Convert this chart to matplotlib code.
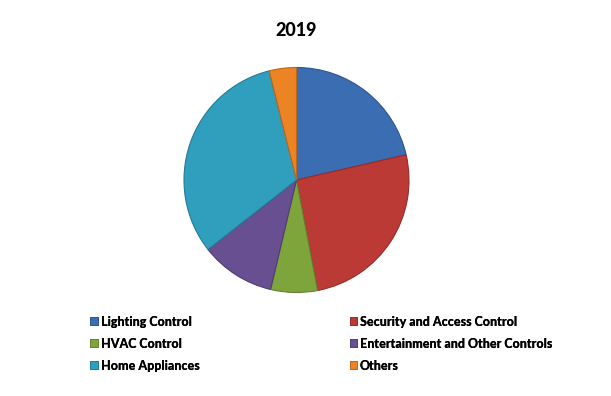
import matplotlib.pyplot as plt
from matplotlib.patches import Patch

labels = ["Lighting Control", "Security and Access Control", "HVAC Control",
          "Entertainment and Other Controls", "Home Appliances", "Others"]
shares = [21.4, 25.6, 6.7, 10.7, 31.7, 3.9]
colors = ["#3b6db3", "#bb3a36", "#7ea43c", "#684f92", "#2f9fbd", "#ec8424"]
edges = ["#2e5690", "#962c29", "#62812d", "#503c72", "#237c94", "#c06617"]
title = "2019"

W, H = 611, 396
fig = plt.figure(figsize=(W / 100, H / 100), dpi=100)

# pie placed by pixel geometry: centre (296.5, 180), radius 112.5
cx, cy, r = 296.5, 180, 112.5
ax = fig.add_axes([(cx - r) / W, (H - cy - r) / H, 2 * r / W, 2 * r / H])
wedges, _ = ax.pie(shares, colors=colors, startangle=90, counterclock=False,
                   wedgeprops=dict(linewidth=0.8))
for w, e in zip(wedges, edges):
    w.set_edgecolor(e)
ax.set_xlim(-1, 1)
ax.set_ylim(-1, 1)
ax.set_aspect("auto")
ax.axis("off")

fig.text(296 / W, 1 - 31 / H, title, ha="center", va="center",
         fontsize=13, fontweight="black", family="Lato")

handles = [Patch(facecolor=c, edgecolor=e, linewidth=0.6) for c, e in zip(colors, edges)]
for col, x0 in ((0, 90), (1, 349.5)):
    idx = [col, col + 2, col + 4]
    leg = fig.legend([handles[i] for i in idx], [labels[i] for i in idx],
                     loc="upper left", bbox_to_anchor=(x0 / W, 1 - 315.5 / H),
                     frameon=False, handlelength=0.6, handleheight=0.6,
                     handletextpad=0.25, labelspacing=0.8, borderaxespad=0,
                     borderpad=0, prop=dict(family="Lato", size=9, weight="black"))
    fig.add_artist(leg)

fig.savefig("out.png", dpi=100)
